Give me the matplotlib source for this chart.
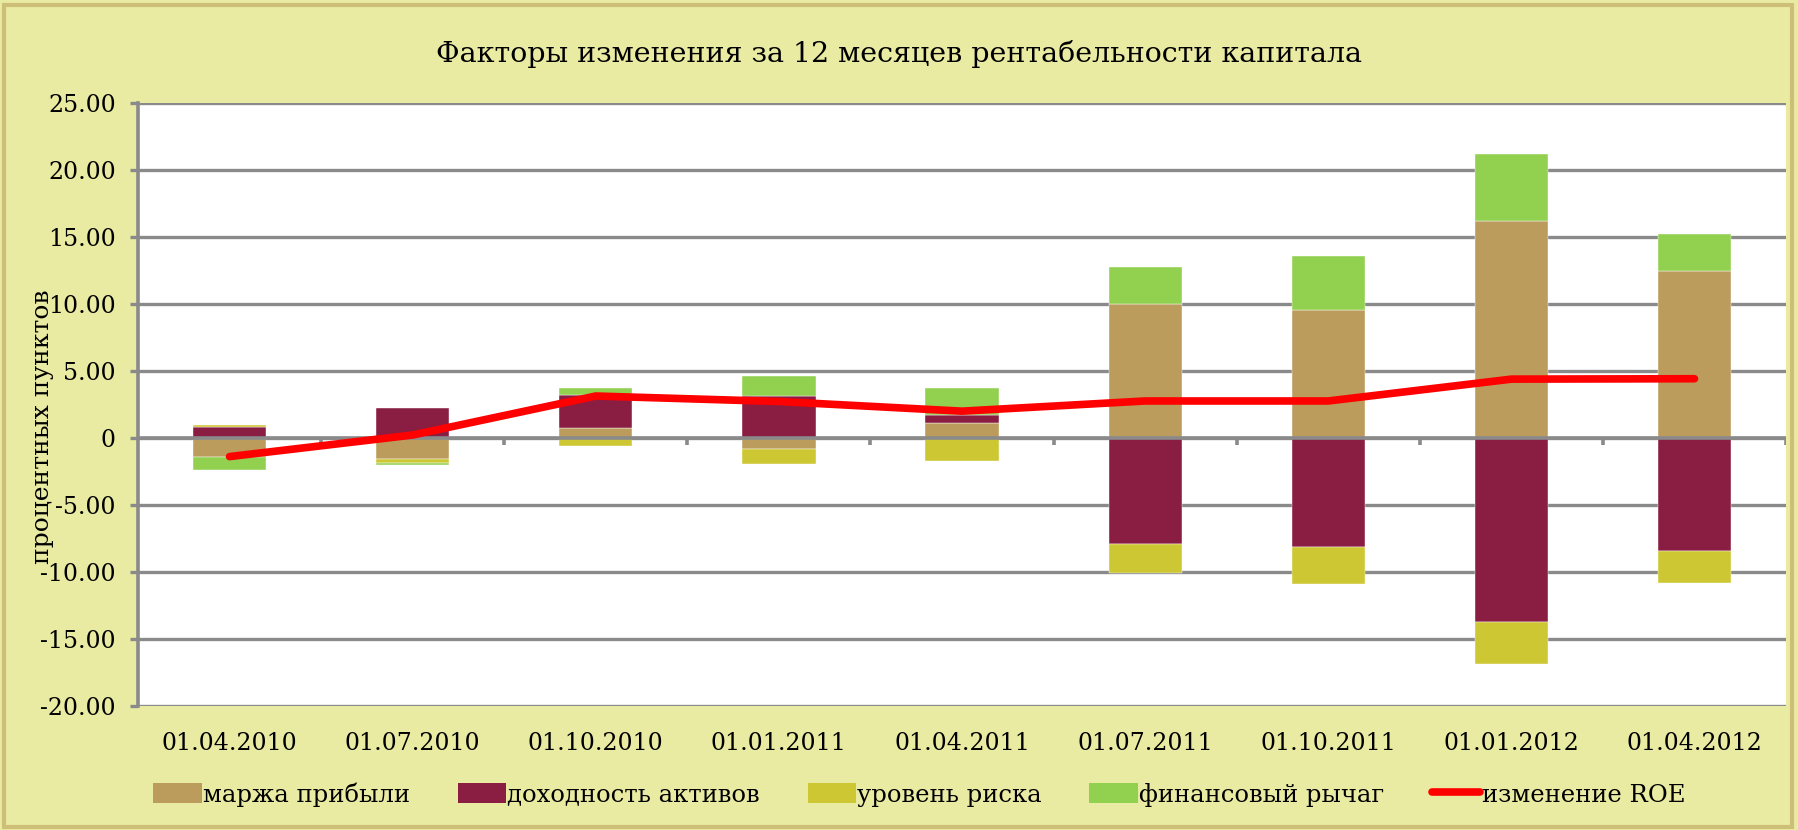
import matplotlib
matplotlib.use("Agg")
import matplotlib.pyplot as plt
import numpy as np
from matplotlib.patches import Patch, Rectangle
from matplotlib.lines import Line2D
from matplotlib.ticker import FuncFormatter, MultipleLocator

categories = ["01.04.2010", "01.07.2010", "01.10.2010", "01.01.2011", "01.04.2011",
              "01.07.2011", "01.10.2011", "01.01.2012", "01.04.2012"]
margin = [-1.39, -1.59, 0.75, -0.80, 1.09, 9.98, 9.58, 16.20, 12.47]      # маржа прибыли
assets = [0.85, 2.26, 2.46, 3.13, 0.63, -7.88, -8.11, -13.70, -8.41]      # доходность активов
risk = [0.15, -0.30, -0.60, -1.14, -1.74, -2.20, -2.76, -3.16, -2.43]     # уровень риска
leverage = [-1.02, -0.12, 0.52, 1.50, 2.01, 2.79, 3.99, 5.02, 2.73]       # финансовый рычаг
roe_change = [-1.39, 0.22, 3.13, 2.72, 2.00, 2.76, 2.76, 4.39, 4.42]      # изменение ROE

series_names = ["маржа прибыли", "доходность активов", "уровень риска", "финансовый рычаг"]
line_name = "изменение ROE"
title = "Факторы изменения за 12 месяцев рентабельности капитала"
ylabel = "процентных пунктов"

colors = ["#BB9C5C", "#891E42", "#CCC733", "#92D050"]
bg = "#EAEBA3"
grid_c = "#8A8A8A"

plt.rcParams["font.family"] = ["DejaVu Serif"]

fig = plt.figure(figsize=(17.99, 8.30), dpi=100, facecolor=bg)
fig.patches.append(Rectangle((0.002, 0.004), 0.994, 0.99, transform=fig.transFigure,
                             facecolor="none", edgecolor="#CDBE78", linewidth=3, zorder=0))
ax = fig.add_axes([0.0767, 0.1494, 0.9161, 0.7266])
ax.set_facecolor("white")

x = np.arange(len(categories))
width = 0.4
pos_base = np.zeros(len(categories))
neg_base = np.zeros(len(categories))
for vals, col in zip([margin, assets, risk, leverage], colors):
    v = np.array(vals)
    base = np.where(v >= 0, pos_base, neg_base)
    ax.bar(x, v, width, bottom=base, color=col, edgecolor="white", linewidth=0.3, zorder=3)
    pos_base = pos_base + np.where(v >= 0, v, 0)
    neg_base = neg_base + np.where(v < 0, v, 0)

ax.plot(x, roe_change, color="#FF0000", linewidth=5.5, solid_capstyle="round",
        solid_joinstyle="round", zorder=5)

ax.set_xlim(-0.5, len(categories) - 0.5)
ax.set_ylim(-20, 25)
ax.yaxis.set_major_locator(MultipleLocator(5))
ax.yaxis.set_major_formatter(FuncFormatter(lambda v, p: "0" if abs(v) < 1e-9 else f"{v:.2f}"))
ax.grid(axis="y", color=grid_c, linewidth=2.4, zorder=1)
ax.set_axisbelow(True)

# zero axis line and category boundary ticks
ax.axhline(0, color=grid_c, linewidth=2.6, zorder=4)
bounds = np.arange(len(categories) + 1) - 0.5
ax.vlines(bounds[1:], -0.55, 0, color=grid_c, linewidth=2.6, zorder=4)

ax.set_xticks(x)
ax.set_xticklabels(categories)
ax.tick_params(axis="x", length=0, pad=19, labelsize=17)
ax.tick_params(axis="y", length=6, width=2.4, color=grid_c, direction="out", labelsize=17, pad=10)

for s in ["top", "right", "bottom"]:
    ax.spines[s].set_visible(False)
ax.spines["left"].set_color(grid_c)
ax.spines["left"].set_linewidth(2.6)

ax.text(-0.058, 0.463, ylabel, transform=ax.transAxes, rotation=90, ha="center",
        va="center", fontsize=18)

fig.text(0.5, 0.935, title, ha="center", va="center", fontsize=20.5)

handles = [Patch(facecolor=c, edgecolor="none") for c in colors]
handles.append(Line2D([0], [0], color="#FF0000", linewidth=5.5, solid_capstyle="round"))
fig.legend(handles, series_names + [line_name], loc="center", bbox_to_anchor=(0.511, 0.043),
           ncol=5, frameon=False, fontsize=17.5, handlelength=2.0, handleheight=0.9,
           handletextpad=0.05, columnspacing=1.95)

fig.savefig("out.png", dpi=100, facecolor=bg)
